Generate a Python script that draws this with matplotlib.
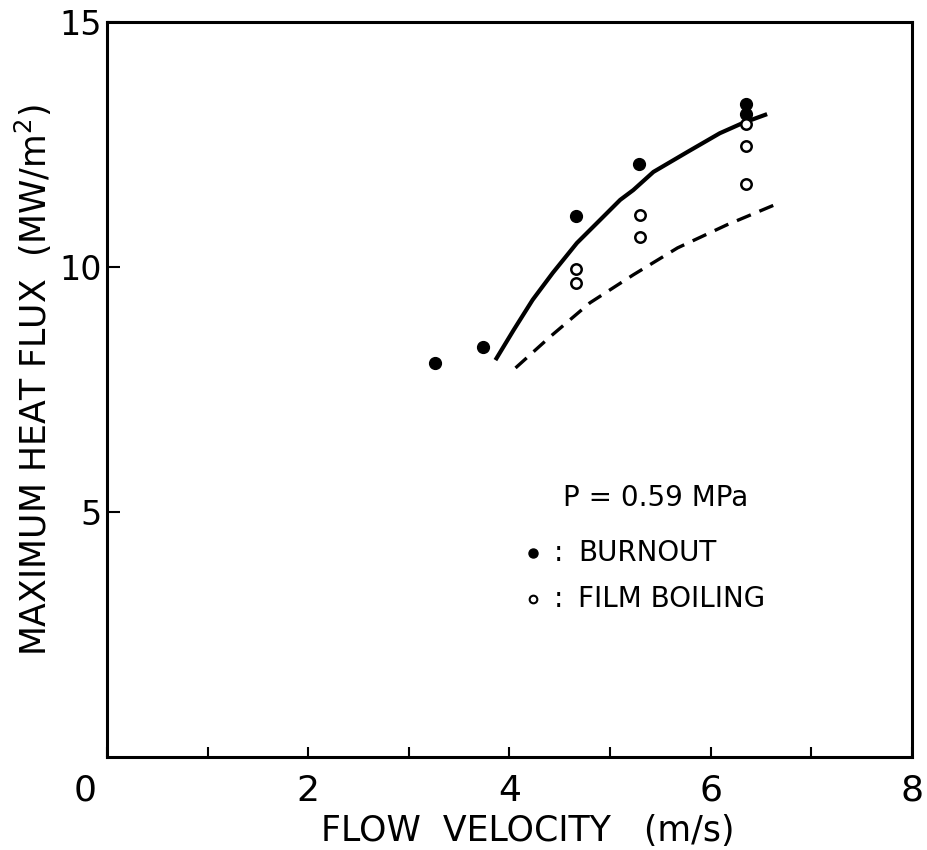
import matplotlib
matplotlib.use('Agg')
import matplotlib.pyplot as plt

# data
burnout_v = [3.26, 3.74, 4.66, 5.29, 6.35, 6.35]
burnout_q = [8.04, 8.37, 11.04, 12.10, 13.12, 13.33]
film_v = [4.66, 4.66, 5.30, 5.30, 6.35, 6.35, 6.35]
film_q = [9.96, 9.67, 11.06, 10.61, 12.92, 12.47, 11.69]

solid_v = [3.86, 4.04, 4.23, 4.43, 4.67, 4.90, 5.10, 5.23, 5.43, 5.77, 6.09, 6.32, 6.56]
solid_q = [8.10, 8.71, 9.33, 9.88, 10.49, 10.96, 11.37, 11.57, 11.94, 12.35, 12.73, 12.94, 13.12]
dash_v = [4.06, 4.40, 4.80, 5.23, 5.67, 6.16, 6.66]
dash_q = [7.94, 8.57, 9.27, 9.84, 10.39, 10.86, 11.29]

x_ticks = [0, 1, 2, 3, 4, 5, 6, 7, 8]
x_ticklabels = ['', '', '2', '', '4', '', '6', '', '8']
y_ticks = [5, 10, 15]

plt.rcParams['font.family'] = ['DejaVu Sans']

fig = plt.figure(figsize=(9.28, 8.5), dpi=100)
ax = fig.add_axes([107 / 928, 93 / 850, 805 / 928, 735 / 850])

ax.plot(solid_v, solid_q, color='black', lw=3.0, solid_capstyle='butt',
        solid_joinstyle='round')
ax.plot(dash_v, dash_q, color='black', lw=2.4, dashes=(4.5, 2.8))
ax.plot(burnout_v, burnout_q, 'o', color='black', ms=8.5, zorder=5)
ax.plot(film_v, film_q, 'o', mfc='white', mec='black', mew=1.8, ms=7.5, zorder=5)

ax.set_xlim(0, 8)
ax.set_ylim(0, 15)
ax.set_xticks(x_ticks)
ax.set_xticklabels(x_ticklabels)
ax.set_yticks(y_ticks)
ax.set_yticklabels([str(t) for t in y_ticks])
ax.tick_params(axis='x', direction='in', length=7, width=1.5, labelsize=26, pad=12)
ax.tick_params(axis='y', direction='in', length=9, width=1.5, labelsize=24, pad=4)
for s in ax.spines.values():
    s.set_linewidth(2.2)

ax.text(-0.22, -0.045, '0', transform=ax.get_xaxis_transform(),
        ha='center', va='center', fontsize=26)

ax.set_xlabel('FLOW  VELOCITY   (m/s)', fontsize=25)
ax.xaxis.set_label_coords(0.523, -0.077)
ax.set_ylabel('MAXIMUM HEAT FLUX  (MW/m$^\\mathregular{2}$)', fontsize=25)
ax.yaxis.set_label_coords(-0.066, 0.513)

# legend box in the lower right
ax.text(0.567, 0.352, 'P = 0.59 MPa', transform=ax.transAxes,
        ha='left', va='center', fontsize=20)
ax.plot([0.529], [0.278], 'o', color='black', ms=6.5, transform=ax.transAxes)
ax.text(0.561, 0.278, ':', transform=ax.transAxes,
        ha='center', va='center', fontsize=20)
ax.text(0.585, 0.278, 'BURNOUT', transform=ax.transAxes,
        ha='left', va='center', fontsize=20)
ax.plot([0.529], [0.215], 'o', mfc='white', mec='black', mew=1.5, ms=5.5,
        transform=ax.transAxes)
ax.text(0.561, 0.215, ':', transform=ax.transAxes,
        ha='center', va='center', fontsize=20)
ax.text(0.585, 0.215, 'FILM BOILING', transform=ax.transAxes,
        ha='left', va='center', fontsize=20)

fig.savefig('out.png', dpi=100)
